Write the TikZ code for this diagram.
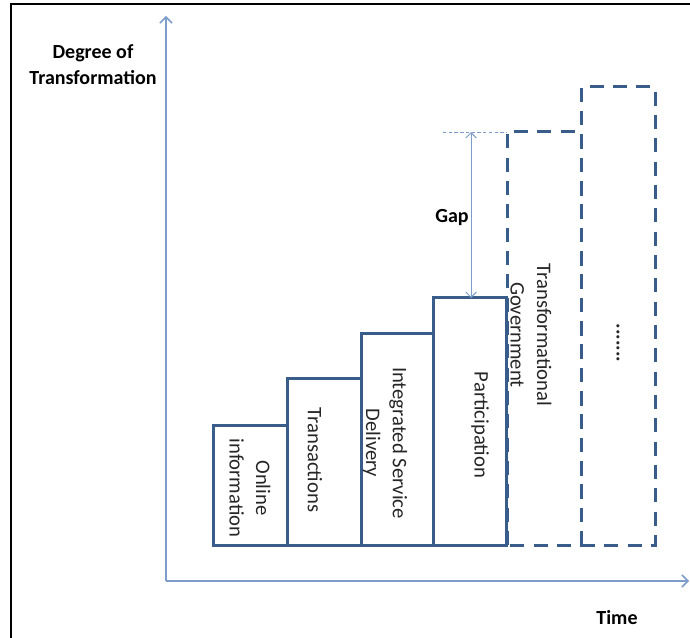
\documentclass[tikz,border=0pt]{standalone}
\usepackage{fontspec}
\setmainfont{Carlito}
\usetikzlibrary{arrows.meta}
\definecolor{boxblue}{HTML}{385D8A}
\definecolor{axisblue}{HTML}{7C9CCB}
\begin{document}
\begin{tikzpicture}[x=0.75pt,y=-0.75pt,
  stage/.style={draw=boxblue, line width=2.25pt, line join=miter},
  future/.style={stage, dash pattern=on 10.5pt off 7pt},
  axis/.style={draw=axisblue, line width=1.1pt, -{Straight Barb[length=4.5pt,width=9pt]}},
  gaparrow/.style={draw=axisblue, line width=0.75pt, {Straight Barb[length=4pt,width=8pt]}-{Straight Barb[length=4pt,width=8pt]}},
  steplabel/.style={rotate=-90, align=center, font=\fontsize{15.5}{20}\selectfont, text=black!85},
  headlabel/.style={align=center, font=\bfseries\fontsize{15}{19}\selectfont, text=black}]
\useasboundingbox (0,0) rectangle (690,638);
% frame
\draw[line width=1.2pt] (11,638) -- (11,4) -- (690,4);

% axes
\coordinate (origin) at (166,581);
\coordinate (ytip) at (166,16);
\coordinate (xtip) at (689,581);
\draw[axis] (origin) -- (ytip);
\draw[axis] (origin) -- (xtip);

% existing stages
\draw[stage] (213,545) rectangle (287,425);
\draw[stage] (287,545) rectangle (361,379);
\draw[stage] (361,545) rectangle (433,334);
\draw[stage] (433,545) rectangle (506,298);
\coordinate (parttop) at (471,298);

% future stages
\draw[future] (507,545) -- (507,132) -- (581,132) -- (581,545) -- cycle;
\draw[future] (581,545) -- (581,87) -- (655,87) -- (655,545) -- cycle;

% gap indicator
\coordinate (gaptop) at (471,132);
\coordinate (gapleft) at (443,132);
\coordinate (tgcorner) at (507,132);
\draw[axisblue, line width=0.6pt, dash pattern=on 2.5pt off 1.8pt] (gapleft) -- (tgcorner);
\draw[gaparrow] (gaptop) -- (parttop);

% labels
\node[headlabel] (ylab) at (93,64.5) {Degree of\\Transformation};
\node[headlabel] (xlab) at (617,618) {Time};
\node[headlabel] (gap) at (452,218) {Gap};

\node[steplabel] (s1) at (250,488) {Online\\information};
\node[steplabel] (s2) at (315,460) {Transactions};
\node[steplabel] (s3) at (385,443) {Integrated Service\\Delivery};
\node[steplabel] (s4) at (480,425) {Participation};
\node[steplabel] (s5) at (531,335) {Transformational\\Government};
\node[steplabel] (s6) at (618,343) {\bfseries.......};
\end{tikzpicture}
\end{document}
